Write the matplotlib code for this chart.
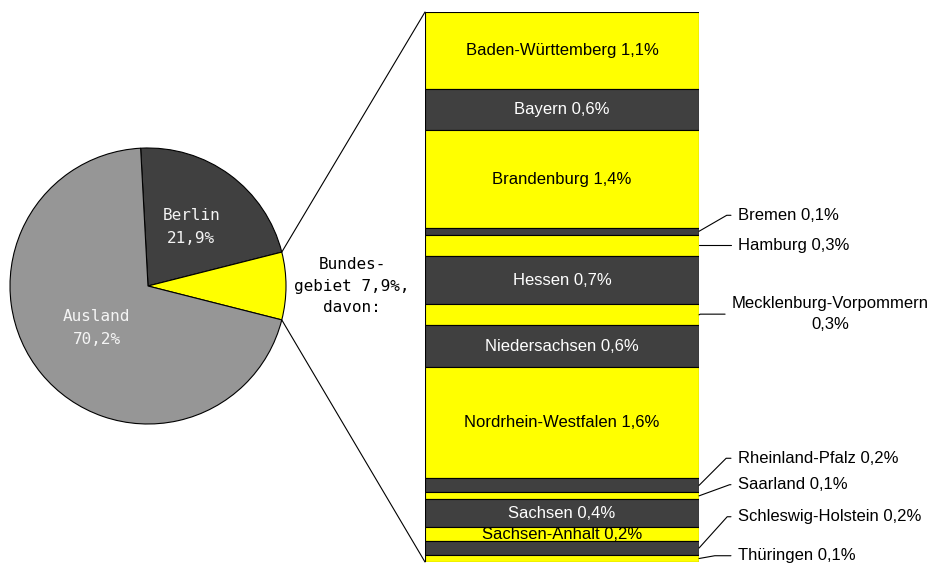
import matplotlib
matplotlib.use("Agg")
import matplotlib.pyplot as plt
from matplotlib.patches import ConnectionPatch
import numpy as np

# pie data
pie_names = ["Berlin", "Bundesgebiet", "Ausland"]
pie_values = [21.9, 7.9, 70.2]
pie_colors = ["#404040", "#ffff00", "#969696"]

# breakdown of Bundesgebiet by state
states = ["Baden-Württemberg", "Bayern", "Brandenburg", "Bremen", "Hamburg", "Hessen",
          "Mecklenburg-Vorpommern", "Niedersachsen", "Nordrhein-Westfalen", "Rheinland-Pfalz",
          "Saarland", "Sachsen", "Sachsen-Anhalt", "Schleswig-Holstein", "Thüringen"]
state_values = [1.1, 0.6, 1.4, 0.1, 0.3, 0.7, 0.3, 0.6, 1.6, 0.2, 0.1, 0.4, 0.2, 0.2, 0.1]

def fmt(v):
    return ("%.1f%%" % v).replace(".", ",")

W, H = 939, 570
fig = plt.figure(figsize=(W / 100, H / 100), dpi=100)

# pie axes: centre (148, 286), radius 138 px
cx, cy, r = 148, 286, 138
ax1 = fig.add_axes([(cx - r) / W, (H - cy - r) / H, 2 * r / W, 2 * r / H])
# Bundesgebiet wedge centred on the horizontal
start = pie_values[0] * 3.6 + pie_values[1] * 1.8
wedges, _ = ax1.pie(pie_values, colors=pie_colors, startangle=start, counterclock=False,
                    wedgeprops=dict(edgecolor="black", linewidth=0.8))
ax1.set_xlim(-1, 1)
ax1.set_ylim(-1, 1)

pie_font = dict(family="DejaVu Sans Mono", fontsize=11.5)
w = wedges[0]
a = np.deg2rad((w.theta1 + w.theta2) / 2)
ax1.text(0.53 * np.cos(a), 0.53 * np.sin(a), pie_names[0] + "\n" + fmt(pie_values[0]),
         color="#f4f4f4", ha="center", va="center", linespacing=1.65, **pie_font)
w = wedges[2]
a = np.deg2rad((w.theta1 + w.theta2) / 2)
ax1.text(0.48 * np.cos(a), 0.48 * np.sin(a), pie_names[2] + "\n" + fmt(pie_values[2]),
         color="#f4f4f4", ha="center", va="center", linespacing=1.65, **pie_font)
ax1.text(1.48, 0.0, "Bundes-\ngebiet " + fmt(pie_values[1]) + ",\ndavon:", color="black",
         ha="center", va="center", linespacing=1.55, **pie_font)

# stacked bar axes: x 425..699, y 12..562
ax2 = fig.add_axes([425 / W, (H - 562) / H, 274 / W, 550 / H])
bottoms = np.concatenate([[0], np.cumsum(state_values)[:-1]])
bar_colors = ["#ffff00" if i % 2 == 0 else "#404040" for i in range(len(states))]
ax2.bar(0.5, state_values, bottom=bottoms, width=1, color=bar_colors,
        edgecolor="black", linewidth=0.8)
ax2.set_xlim(0, 1)
ax2.set_ylim(sum(state_values), 0)
ax2.axis("off")

bar_font = dict(family="Liberation Sans", fontsize=12)
inside = ["Baden-Württemberg", "Bayern", "Brandenburg", "Hessen", "Niedersachsen",
          "Nordrhein-Westfalen", "Sachsen", "Sachsen-Anhalt"]
# outside labels: (text y in data units, leader angle)
outside = {"Bremen": (2.92, 30), "Hamburg": (3.35, 30), "Mecklenburg-Vorpommern": (4.34, 30),
           "Rheinland-Pfalz": (6.41, 45), "Saarland": (6.79, 20),
           "Schleswig-Holstein": (7.25, 48), "Thüringen": (7.81, 10)}

for name, v, b, c in zip(states, state_values, bottoms, bar_colors):
    mid = b + v / 2
    if name in inside:
        ax2.text(0.5, mid, name + " " + fmt(v), ha="center", va="center",
                 color="black" if c == "#ffff00" else "white", **bar_font)
    else:
        ty, ang = outside[name]
        if name == "Mecklenburg-Vorpommern":
            label, tx, ha = name + "\n" + fmt(v), 1.48, "center"
        else:
            label, tx, ha = name + " " + fmt(v), 1.142, "left"
        ax2.annotate(label, xy=(1, mid), xytext=(tx, ty), ha=ha, va="center",
                     multialignment="center", linespacing=1.5, annotation_clip=False,
                     arrowprops=dict(arrowstyle="-", color="black", lw=0.8,
                                     shrinkA=3, shrinkB=0, relpos=(0, 0.5),
                                     connectionstyle="angle,angleA=0,angleB=%d,rad=0" % ang),
                     **bar_font)

# connector lines from the Bundesgebiet wedge to the bar
w = wedges[1]
for th, yb in [(w.theta1, sum(state_values)), (w.theta2, 0)]:
    t = np.deg2rad(th)
    con = ConnectionPatch(xyA=(np.cos(t), np.sin(t)), coordsA=ax1.transData,
                          xyB=(0, yb), coordsB=ax2.transData, color="black", lw=0.8)
    fig.add_artist(con)

fig.savefig("out.png", dpi=100)
